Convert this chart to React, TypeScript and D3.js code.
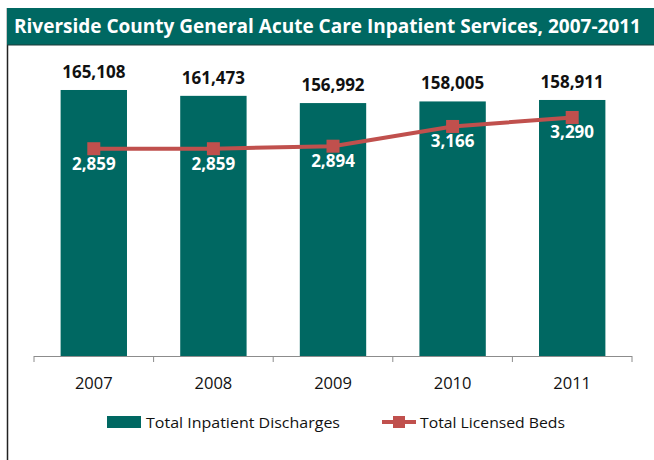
import React from "react";
import * as d3 from "d3";

const years = ["2007", "2008", "2009", "2010", "2011"];
const discharges = [165108, 161473, 156992, 158005, 158911];
const beds = [2859, 2859, 2894, 3166, 3290];
const title = "Riverside County General Acute Care Inpatient Services, 2007-2011";
const legendLabels = ["Total Inpatient Discharges", "Total Licensed Beds"];

const W = 654;
const H = 460;
const TEAL = "#006862";
const RED = "#c0504d";
const FONT = "'Open Sans', 'DejaVu Sans', sans-serif";

export default function App() {
  const x = d3.scaleBand<string>().domain(years).range([34, 632]).padding(0);
  const y = d3.scaleLinear().domain([0, 180000]).range([356, 66]);
  const y2 = d3.scaleLinear().domain([0, 4000]).range([356, 66]);
  const barW = x.bandwidth() * 0.555;
  const fmt = d3.format(",");
  const cx = (d: string) => (x(d) as number) + x.bandwidth() / 2;

  const line = d3
    .line<number>()
    .x((_, i) => cx(years[i]))
    .y((d) => y2(d));

  const ticks = [...years.map((d) => x(d) as number), 632];

  return (
    <svg
      width={W}
      height={H}
      style={{ position: "absolute", left: 0, top: 0, background: "#fff" }}
      fontFamily={FONT}
    >
      {/* frame */}
      <line x1={7.5} x2={7.5} y1={8} y2={H} stroke="#222" strokeWidth={1.5} />
      <rect x={7} y={8} width={W - 7} height={37} fill={TEAL} />
      <line x1={7} x2={W} y1={45} y2={45} stroke="#1e3b38" strokeWidth={1} />
      <text
        x={14}
        y={33}
        fill="#fff"
        fontWeight="bold"
        fontSize={19}
        textLength={627}
        lengthAdjust="spacingAndGlyphs"
      >
        {title}
      </text>

      {/* bars */}
      {years.map((d, i) => (
        <rect
          key={d}
          x={cx(d) - barW / 2}
          y={y(discharges[i])}
          width={barW}
          height={y(0) - y(discharges[i])}
          fill={TEAL}
        />
      ))}

      {/* axis */}
      <line x1={34} x2={632} y1={356.5} y2={356.5} stroke="#8c8c8c" strokeWidth={1} />
      {ticks.map((t, i) => (
        <line key={i} x1={t} x2={t} y1={356} y2={362} stroke="#8c8c8c" strokeWidth={1} />
      ))}
      {years.map((d) => (
        <text key={d} x={cx(d)} y={389} textAnchor="middle" fontSize={16.5} fill="#111">
          {d}
        </text>
      ))}

      {/* bar labels */}
      {years.map((d, i) => (
        <text
          key={d}
          x={cx(d)}
          y={y(discharges[i]) - 12}
          textAnchor="middle"
          fontSize={17}
          fontWeight="bold"
          fill="#111"
        >
          {fmt(discharges[i])}
        </text>
      ))}

      {/* line */}
      <path d={line(beds) || ""} fill="none" stroke={RED} strokeWidth={4} />
      {beds.map((v, i) => (
        <rect
          key={i}
          x={cx(years[i]) - 6.5}
          y={y2(v) - 6.5}
          width={13}
          height={13}
          fill={RED}
        />
      ))}
      {beds.map((v, i) => (
        <text
          key={i}
          x={cx(years[i])}
          y={y2(v) + 21}
          textAnchor="middle"
          fontSize={17}
          fontWeight="bold"
          fill="#fff"
        >
          {fmt(v)}
        </text>
      ))}

      {/* legend */}
      <rect x={107} y={416} width={34} height={12} fill={TEAL} />
      <text x={146} y={427.5} fontSize={15} fill="#111" textLength={194} lengthAdjust="spacingAndGlyphs">
        {legendLabels[0]}
      </text>
      <line x1={382} x2={416} y1={422} y2={422} stroke={RED} strokeWidth={4} />
      <rect x={393} y={416} width={12} height={12} fill={RED} />
      <text x={420} y={427.5} fontSize={15} fill="#111" textLength={145} lengthAdjust="spacingAndGlyphs">
        {legendLabels[1]}
      </text>
    </svg>
  );
}
